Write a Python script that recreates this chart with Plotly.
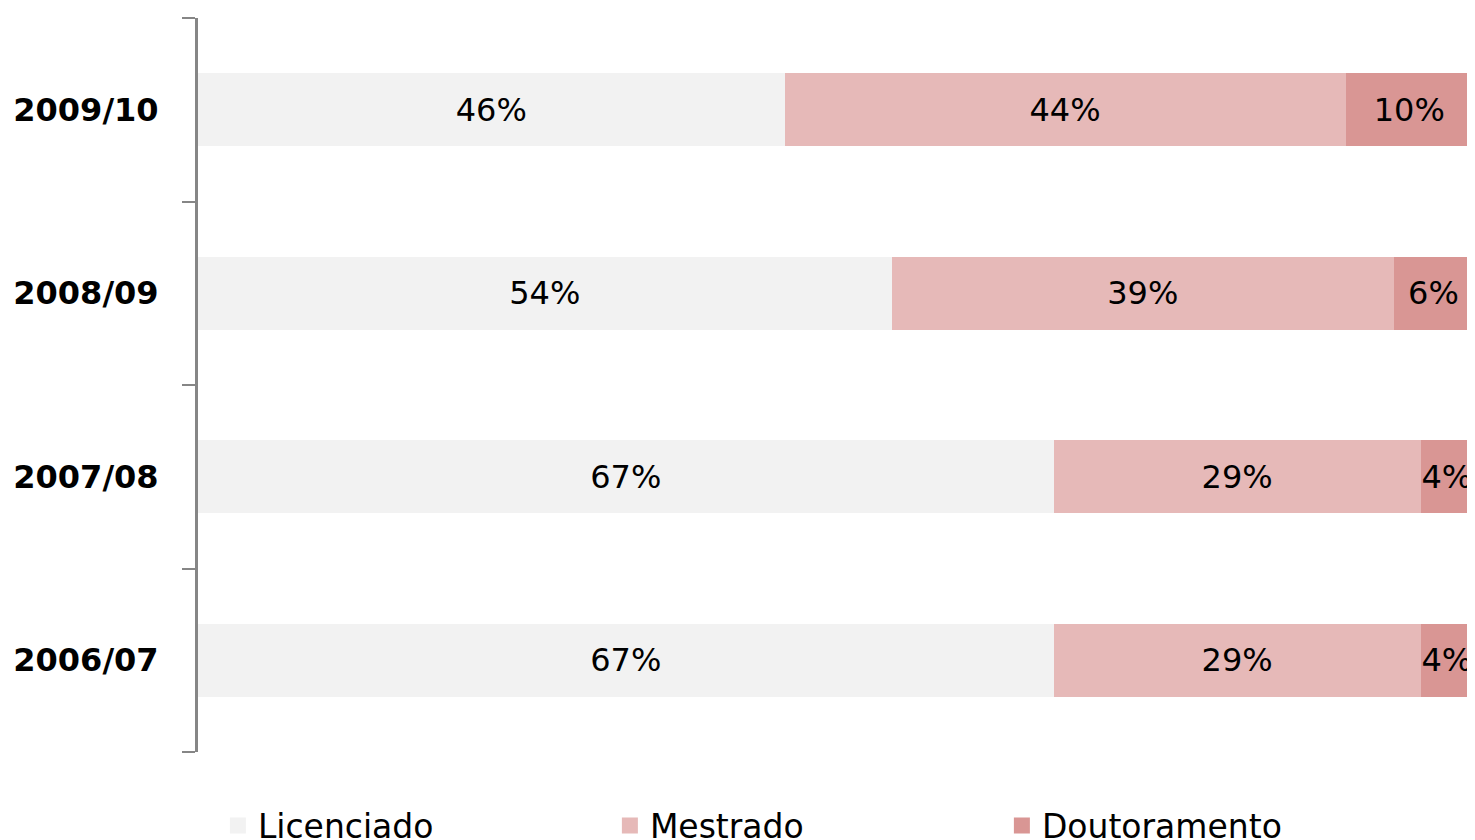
import plotly.graph_objects as go

categories = ["2006/07", "2007/08", "2008/09", "2009/10"]
licenciado = [67.1, 67.1, 54.4, 46.0]
mestrado = [28.8, 28.8, 39.4, 44.0]
doutoramento = [4.1, 4.1, 6.2, 10.0]

series = [
    ("Licenciado", licenciado, "#F2F2F2"),
    ("Mestrado", mestrado, "#E6B9B8"),
    ("Doutoramento", doutoramento, "#D99694"),
]

FONT = "DejaVu Sans"

fig = go.Figure()
for name, vals, color in series:
    fig.add_trace(go.Bar(
        y=categories, x=vals, name=name, orientation="h",
        marker=dict(color=color, line=dict(width=0)),
        texttemplate="%{x:.0f}%", textposition="inside",
        insidetextanchor="middle", textangle=0, constraintext="none",
        textfont=dict(family=FONT, size=32, color="#000000"),
        cliponaxis=False, showlegend=False,
        hoverinfo="skip",
    ))
# legend entries with larger square swatches
for name, vals, color in series:
    fig.add_trace(go.Scatter(
        x=[None], y=[None], mode="markers", name=name,
        marker=dict(symbol="square", size=20, color=color),
        showlegend=True, hoverinfo="skip",
    ))

fig.update_layout(
    barmode="stack",
    bargap=0.6,
    width=1475, height=840,
    margin=dict(l=190, r=10, t=10, b=96, autoexpand=False),
    paper_bgcolor="white", plot_bgcolor="white",
    font=dict(family=FONT, color="#000000"),
    showlegend=True,
    legend=dict(
        orientation="h", x=0.0156, xanchor="left", y=-0.062, yanchor="top",
        entrywidth=347, entrywidthmode="pixels",
        font=dict(family=FONT, size=33, color="#000000"),
        traceorder="normal", itemclick=False, itemsizing="trace",
    ),
    xaxis=dict(range=[0, 100], visible=False, showgrid=False, zeroline=False),
    yaxis=dict(
        type="category", categoryorder="array", categoryarray=categories,
        showline=True, linecolor="#868686", linewidth=3,
        ticks="outside", ticklen=13, tickcolor="#868686", tickwidth=2,
        tickson="boundaries", showgrid=False,
        tickfont=dict(family=FONT, size=32, color="#000000", weight="bold"),
        ticklabelstandoff=30,
    ),
)

fig.write_html("out.html")
